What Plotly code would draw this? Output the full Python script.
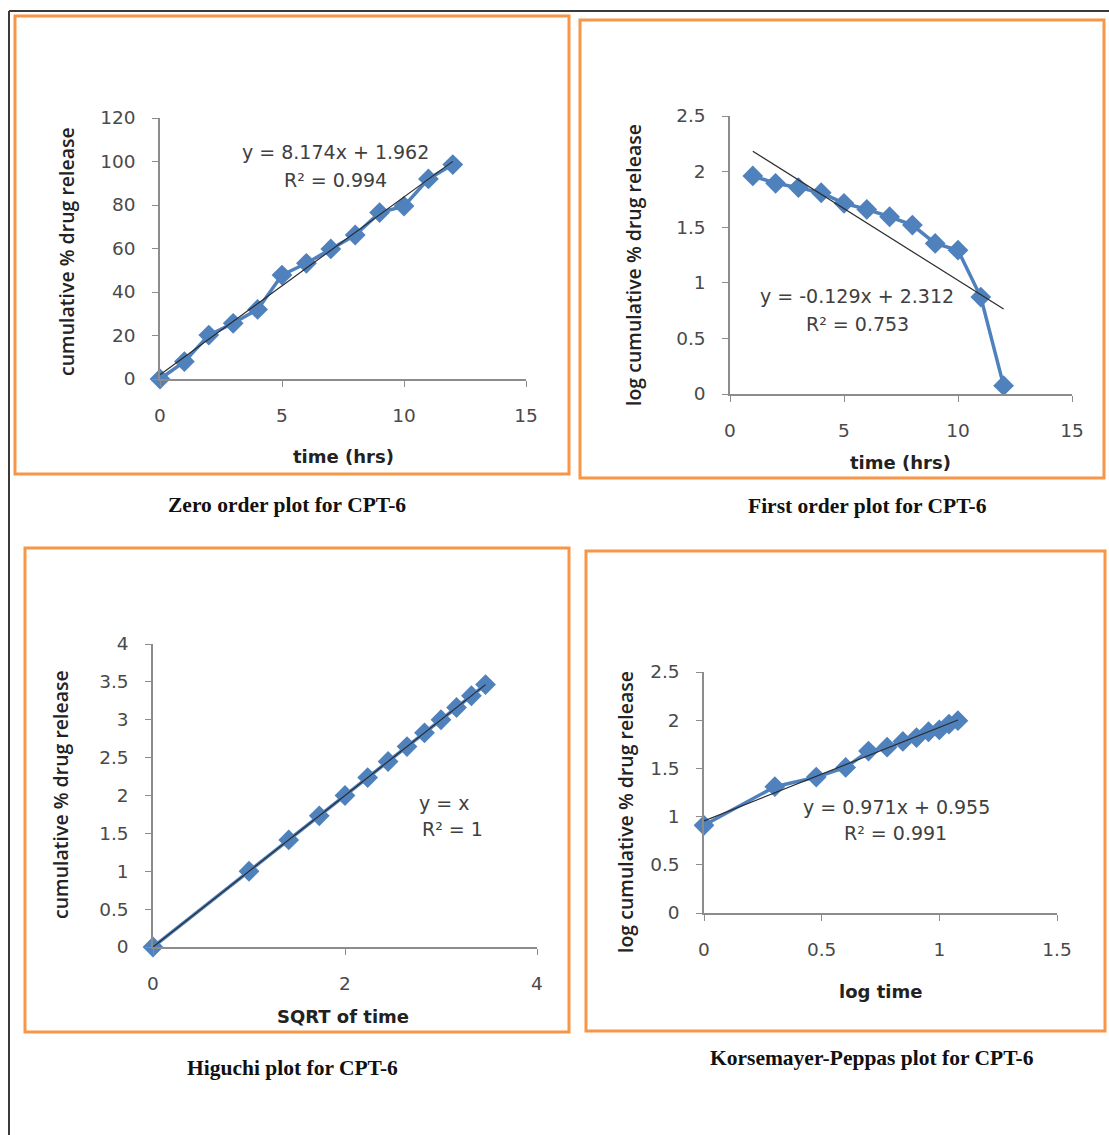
import plotly.graph_objects as go

W, H = 1109, 1135

# ---------------- data ----------------
zero_time = [0, 1, 2, 3, 4, 5, 6, 7, 8, 9, 10, 11, 12]
zero_release = [0, 8.0, 20.2, 25.6, 32.0, 47.8, 53.2, 59.8, 66.2, 76.5, 79.5, 92.0, 98.6]

first_time = [1, 2, 3, 4, 5, 6, 7, 8, 9, 10, 11, 12]
first_log_remaining = [1.961, 1.895, 1.856, 1.810, 1.715, 1.660, 1.594, 1.519, 1.354, 1.293, 0.872, 0.075]

higuchi_sqrt_time = [0, 1.0, 1.414, 1.732, 2.0, 2.236, 2.449, 2.646, 2.828, 3.0, 3.162, 3.317, 3.464]
higuchi_release = [0, 1.0, 1.414, 1.732, 2.0, 2.236, 2.449, 2.646, 2.828, 3.0, 3.162, 3.317, 3.464]

kp_log_time = [0, 0.301, 0.477, 0.602, 0.699, 0.778, 0.845, 0.903, 0.954, 1.0, 1.041, 1.079]
kp_log_release = [0.910, 1.310, 1.410, 1.510, 1.680, 1.720, 1.780, 1.820, 1.880, 1.900, 1.960, 1.995]

trend_slope = [8.174, -0.129, 1.0, 0.971]
trend_intercept = [1.962, 2.312, 0.0, 0.955]
equation_text = ["y = 8.174x + 1.962", "y = -0.129x + 2.312", "y = x", "y = 0.971x + 0.955"]
r2_text = ["R² = 0.994", "R² = 0.753", "R² = 1", "R² = 0.991"]

x_titles = ["time (hrs)", "time (hrs)", "SQRT of time", "log time"]
y_titles = ["cumulative % drug release", "log cumulative % drug release",
            "cumulative % drug release", "log cumulative % drug release"]
captions = ["Zero order plot for CPT-6", "First order plot for CPT-6",
            "Higuchi plot for CPT-6", "Korsemayer-Peppas plot for CPT-6"]

x_ranges = [[0, 15], [0, 15], [0, 4], [0, 1.5]]
x_dticks = [5, 5, 2, 0.5]
y_ranges = [[0, 120], [0, 2.5], [0, 4], [0, 2.5]]
y_dticks = [20, 0.5, 0.5, 0.5]

series_x = [zero_time, first_time, higuchi_sqrt_time, kp_log_time]
series_y = [zero_release, first_log_remaining, higuchi_release, kp_log_release]

# ---------------- layout geometry (pixels) ----------------
def px(x):
    return x / W

def py(y):
    return 1 - y / H

# plot area: (x0, x1, ybottom, ytop)
areas = [(160, 526, 379, 118), (730, 1072, 394, 116), (153, 537, 947, 644), (704, 1057, 913, 672)]
xtitle_pos = [(343, 456), (900, 462), (343, 1016), (880, 991)]
ytitle_pos = [(66, 252), (633, 265), (60, 795), (625, 812)]
eq_pos = [(335, 152), (857, 296), (444, 803), (896, 807)]
r2_pos = [(335, 180), (857, 324), (452, 829), (895, 833)]
cap_pos = [(287, 505), (867, 506), (292, 1068), (872, 1058)]
boxes = [(15, 16, 569, 474), (580, 20, 1104, 478), (25, 548, 569, 1032), (586, 551, 1105, 1031)]

BLUE = "#4F81BD"
ORANGE = "#F79646"
AXIS = "#8c8c8c"
TICKFONT = dict(family="DejaVu Sans", size=18.5, color="#4a4a4a")

fig = go.Figure()
layout = dict(width=W, height=H, margin=dict(l=0, r=0, t=0, b=0, autoexpand=False),
              paper_bgcolor="white", plot_bgcolor="white", showlegend=False)

annotations = []
shapes = []

for i in range(4):
    n = "" if i == 0 else str(i + 1)
    xa, ya = "x" + n, "y" + n
    x0, x1, yb, yt = areas[i]
    layout["xaxis" + n] = dict(
        domain=[px(x0), px(x1)], range=x_ranges[i], dtick=x_dticks[i], tick0=0,
        showgrid=False, zeroline=False, showline=True, linecolor=AXIS, linewidth=1.5,
        ticks="outside", ticklen=6, tickcolor=AXIS, tickwidth=1.2,
        tickfont=TICKFONT, ticklabelstandoff=13, anchor=ya, fixedrange=True)
    layout["yaxis" + n] = dict(
        domain=[py(yb), py(yt)], range=y_ranges[i], dtick=y_dticks[i], tick0=0,
        showgrid=False, zeroline=False, showline=True, linecolor=AXIS, linewidth=1.5,
        ticks="outside", ticklen=6, tickcolor=AXIS, tickwidth=1.2,
        tickfont=TICKFONT, ticklabelstandoff=13, anchor=xa, fixedrange=True)

    fig.add_trace(go.Scatter(
        x=series_x[i], y=series_y[i], mode="lines+markers", xaxis=xa, yaxis=ya,
        line=dict(color=BLUE, width=3.5),
        marker=dict(symbol="diamond", size=16, color=BLUE),
        cliponaxis=False))

    tx = [min(series_x[i]), max(series_x[i])]
    ty = [trend_slope[i] * v + trend_intercept[i] for v in tx]
    fig.add_trace(go.Scatter(
        x=tx, y=ty, mode="lines", xaxis=xa, yaxis=ya,
        line=dict(color="#2b2b2b", width=1.2), cliponaxis=False))

    annotations.append(dict(text=x_titles[i], xref="paper", yref="paper",
                            x=px(xtitle_pos[i][0]), y=py(xtitle_pos[i][1]),
                            xanchor="center", yanchor="middle", showarrow=False,
                            font=dict(family="DejaVu Sans", size=18, color="#222222", weight="bold")))
    annotations.append(dict(text=y_titles[i], xref="paper", yref="paper",
                            x=px(ytitle_pos[i][0]), y=py(ytitle_pos[i][1]), textangle=-90,
                            xanchor="center", yanchor="middle", showarrow=False,
                            font=dict(family="Open Sans", size=19.5, color="#222222", weight=600)))
    annotations.append(dict(text=equation_text[i], xref="paper", yref="paper",
                            x=px(eq_pos[i][0]), y=py(eq_pos[i][1]),
                            xanchor="center", yanchor="middle", showarrow=False,
                            font=dict(family="DejaVu Sans", size=19, color="#404040")))
    annotations.append(dict(text=r2_text[i], xref="paper", yref="paper",
                            x=px(r2_pos[i][0]), y=py(r2_pos[i][1]),
                            xanchor="center", yanchor="middle", showarrow=False,
                            font=dict(family="DejaVu Sans", size=19, color="#404040")))
    annotations.append(dict(text=captions[i], xref="paper", yref="paper",
                            x=px(cap_pos[i][0]), y=py(cap_pos[i][1]),
                            xanchor="center", yanchor="middle", showarrow=False,
                            font=dict(family="Liberation Serif", size=21.5, color="#111111", weight="bold")))

    bx0, by0, bx1, by1 = boxes[i]
    shapes.append(dict(type="rect", xref="paper", yref="paper",
                       x0=px(bx0), y0=py(by1), x1=px(bx1), y1=py(by0),
                       line=dict(color=ORANGE, width=3)))

# outer frame (top and left)
shapes.append(dict(type="line", xref="paper", yref="paper", x0=px(9), y0=py(11), x1=px(1109), y1=py(11),
                   line=dict(color="#3a3a3a", width=2)))
shapes.append(dict(type="line", xref="paper", yref="paper", x0=px(9), y0=py(11), x1=px(9), y1=py(1135),
                   line=dict(color="#3a3a3a", width=2)))

layout["annotations"] = annotations
layout["shapes"] = shapes
fig.update_layout(**layout)

post = ("document.body.style.margin='0';document.body.style.padding='0';"
        "document.body.style.overflow='hidden';"
        "document.documentElement.style.overflow='hidden';")
fig.write_html("out.html", post_script=post, config={"displayModeBar": False})
